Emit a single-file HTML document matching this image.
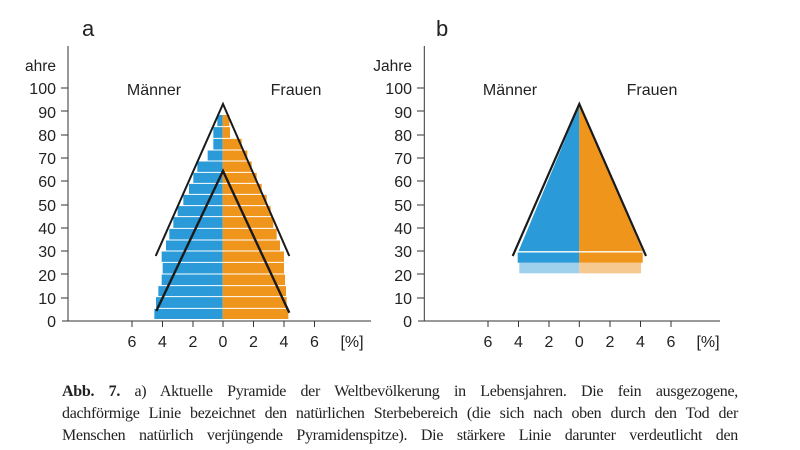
<!DOCTYPE html>
<html><head><meta charset="utf-8"><style>
html,body{margin:0;padding:0;background:#fff;width:800px;height:450px;overflow:hidden}
svg{position:absolute;left:0;top:0}
.cap{position:absolute;left:62px;width:676px;font-family:"Liberation Serif",serif;font-size:16px;color:#222;text-align:justify;text-align-last:justify;white-space:nowrap;letter-spacing:-0.3px}
</style></head><body>
<svg width="800" height="450" viewBox="0 0 800 450" font-family="Liberation Sans, sans-serif" fill="#222">
<!-- Chart a -->
<text x="82" y="36" font-size="22">a</text>
<text x="56" y="71" font-size="15.5" text-anchor="end">ahre</text>
<g font-size="16" text-anchor="end">
<text x="56" y="327">0</text><text x="56" y="304">10</text><text x="56" y="281">20</text><text x="56" y="257">30</text><text x="56" y="234">40</text><text x="56" y="211">50</text><text x="56" y="187">60</text><text x="56" y="164">70</text><text x="56" y="141">80</text><text x="56" y="118">90</text><text x="56" y="94">100</text>
</g>
<g stroke="#333" stroke-width="1">
<line x1="68" y1="46" x2="68" y2="321"/><line x1="62" y1="321" x2="371" y2="321"/>
<line x1="61" y1="88" x2="68" y2="88"/><line x1="61" y1="111" x2="68" y2="111"/><line x1="61" y1="135" x2="68" y2="135"/><line x1="61" y1="158" x2="68" y2="158"/><line x1="61" y1="181" x2="68" y2="181"/><line x1="61" y1="205" x2="68" y2="205"/><line x1="61" y1="228" x2="68" y2="228"/><line x1="61" y1="251" x2="68" y2="251"/><line x1="61" y1="274" x2="68" y2="274"/><line x1="61" y1="298" x2="68" y2="298"/>
<line x1="132" y1="321" x2="132" y2="327"/><line x1="162.5" y1="321" x2="162.5" y2="327"/><line x1="193" y1="321" x2="193" y2="327"/><line x1="223" y1="321" x2="223" y2="327"/><line x1="253.5" y1="321" x2="253.5" y2="327"/><line x1="284" y1="321" x2="284" y2="327"/><line x1="314.5" y1="321" x2="314.5" y2="327"/>
</g>
<g font-size="16" text-anchor="middle">
<text x="132" y="347">6</text><text x="162.5" y="347">4</text><text x="193" y="347">2</text><text x="223" y="347">0</text><text x="253.5" y="347">2</text><text x="284" y="347">4</text><text x="314.5" y="347">6</text><text x="352" y="347">[%]</text>
<text x="154" y="95">Männer</text><text x="296" y="95">Frauen</text>
</g>
<g transform="translate(140,95) scale(0.33333)">
<g fill="#2a9ad8">
<rect x="232" y="60" width="16" height="35"/><rect x="220" y="95" width="28" height="35"/><rect x="220" y="130" width="28" height="35"/><rect x="203" y="165" width="45" height="33"/><rect x="172" y="198" width="76" height="34"/><rect x="160" y="232" width="88" height="33"/><rect x="147" y="265" width="101" height="33"/><rect x="130" y="298" width="118" height="34"/><rect x="113" y="332" width="135" height="33"/><rect x="100" y="365" width="148" height="35"/><rect x="88" y="400" width="160" height="35"/><rect x="78" y="435" width="170" height="33"/><rect x="65" y="468" width="183" height="34"/><rect x="68" y="502" width="180" height="35"/><rect x="65" y="537" width="183" height="35"/><rect x="55" y="572" width="193" height="33"/><rect x="48" y="605" width="200" height="35"/><rect x="43" y="640" width="205" height="32"/>
</g>
<g fill="#f0951c">
<rect x="248" y="60" width="20" height="35"/><rect x="248" y="95" width="22" height="35"/><rect x="248" y="130" width="57" height="35"/><rect x="248" y="165" width="74" height="33"/><rect x="248" y="198" width="87" height="34"/><rect x="248" y="232" width="102" height="33"/><rect x="248" y="265" width="117" height="33"/><rect x="248" y="298" width="132" height="34"/><rect x="248" y="332" width="144" height="33"/><rect x="248" y="365" width="152" height="35"/><rect x="248" y="400" width="162" height="35"/><rect x="248" y="435" width="172" height="33"/><rect x="248" y="468" width="184" height="34"/><rect x="248" y="502" width="184" height="35"/><rect x="248" y="537" width="187" height="35"/><rect x="248" y="572" width="190" height="33"/><rect x="248" y="605" width="192" height="35"/><rect x="248" y="640" width="197" height="32"/>
</g>
<g stroke="#fff" stroke-width="3">
<line x1="0" y1="95" x2="460" y2="95"/><line x1="0" y1="130" x2="460" y2="130"/><line x1="0" y1="165" x2="460" y2="165"/><line x1="0" y1="198" x2="460" y2="198"/><line x1="0" y1="232" x2="460" y2="232"/><line x1="0" y1="265" x2="460" y2="265"/><line x1="0" y1="298" x2="460" y2="298"/><line x1="0" y1="332" x2="460" y2="332"/><line x1="0" y1="365" x2="460" y2="365"/><line x1="0" y1="400" x2="460" y2="400"/><line x1="0" y1="435" x2="460" y2="435"/><line x1="0" y1="468" x2="460" y2="468"/><line x1="0" y1="502" x2="460" y2="502"/><line x1="0" y1="537" x2="460" y2="537"/><line x1="0" y1="572" x2="460" y2="572"/><line x1="0" y1="605" x2="460" y2="605"/><line x1="0" y1="640" x2="460" y2="640"/>
</g>
</g>
<polyline points="155.7,256 223,104 289.3,256" fill="none" stroke="#1a1a1a" stroke-width="2"/>
<polyline points="156.3,311 223,171 289.3,312.7" fill="none" stroke="#1a1a1a" stroke-width="2.4"/>

<!-- Chart b -->
<text x="436" y="36" font-size="22">b</text>
<text x="412" y="71" font-size="15.5" text-anchor="end">Jahre</text>
<g font-size="16" text-anchor="end">
<text x="412" y="327">0</text><text x="412" y="304">10</text><text x="412" y="281">20</text><text x="412" y="257">30</text><text x="412" y="234">40</text><text x="412" y="211">50</text><text x="412" y="187">60</text><text x="412" y="164">70</text><text x="412" y="141">80</text><text x="412" y="118">90</text><text x="412" y="94">100</text>
</g>
<g stroke="#333" stroke-width="1">
<line x1="424.3" y1="46" x2="424.3" y2="321"/><line x1="418" y1="321" x2="720" y2="321"/>
<line x1="417" y1="88" x2="424" y2="88"/><line x1="417" y1="111" x2="424" y2="111"/><line x1="417" y1="135" x2="424" y2="135"/><line x1="417" y1="158" x2="424" y2="158"/><line x1="417" y1="181" x2="424" y2="181"/><line x1="417" y1="205" x2="424" y2="205"/><line x1="417" y1="228" x2="424" y2="228"/><line x1="417" y1="251" x2="424" y2="251"/><line x1="417" y1="274" x2="424" y2="274"/><line x1="417" y1="298" x2="424" y2="298"/>
<line x1="488" y1="321" x2="488" y2="327"/><line x1="518.5" y1="321" x2="518.5" y2="327"/><line x1="549" y1="321" x2="549" y2="327"/><line x1="579.3" y1="321" x2="579.3" y2="327"/><line x1="610" y1="321" x2="610" y2="327"/><line x1="640.5" y1="321" x2="640.5" y2="327"/><line x1="671" y1="321" x2="671" y2="327"/>
</g>
<g font-size="16" text-anchor="middle">
<text x="488" y="347">6</text><text x="518.5" y="347">4</text><text x="549" y="347">2</text><text x="579.3" y="347">0</text><text x="610" y="347">2</text><text x="640.5" y="347">4</text><text x="671" y="347">6</text><text x="708" y="347">[%]</text>
<text x="510" y="95">Männer</text><text x="652" y="95">Frauen</text>
</g>
<rect x="519.3" y="262.7" width="60" height="10.6" fill="#9fd0ec"/>
<rect x="579.3" y="262.7" width="61.7" height="10.6" fill="#f6c990"/>
<polygon points="579.3,104 517.7,251.7 579.3,251.7" fill="#2a9ad8"/>
<polygon points="579.3,104 642.7,251.7 579.3,251.7" fill="#f0951c"/>
<line x1="579.3" y1="104" x2="517.7" y2="251.7" stroke="#fff" stroke-width="1.2"/>
<rect x="517.7" y="252.5" width="61.6" height="10.2" fill="#2a9ad8"/>
<rect x="579.3" y="252.5" width="63.4" height="10.2" fill="#f0951c"/>
<line x1="517" y1="251.7" x2="643" y2="251.7" stroke="#fff" stroke-width="1.2"/>
<polyline points="512.7,256 579.3,104 646,256" fill="none" stroke="#1a1a1a" stroke-width="2.2"/>
</svg>
<div class="cap" style="top:383px"><b>Abb. 7.</b> a) Aktuelle Pyramide der Weltbevölkerung in Lebensjahren. Die fein ausgezogene,</div>
<div class="cap" style="top:405px">dachförmige Linie bezeichnet den natürlichen Sterbebereich (die sich nach oben durch den Tod der</div>
<div class="cap" style="top:427px">Menschen natürlich verjüngende Pyramidenspitze). Die stärkere Linie darunter verdeutlicht den</div>
</body></html>
